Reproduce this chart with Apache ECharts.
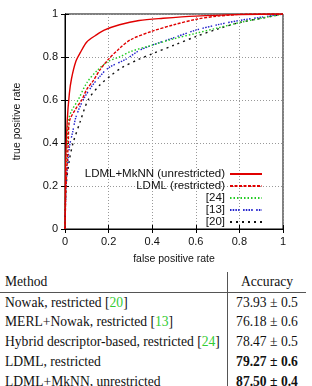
<!DOCTYPE html>
<html>
<head>
<meta charset="utf-8">
<script src="https://cdn.jsdelivr.net/npm/echarts@6/dist/echarts.min.js"></script>
<style>
  html, body { margin: 0; padding: 0; background: #fff; }
  #wrap { position: relative; width: 312px; height: 386px; overflow: hidden; }
  #roc { position: absolute; left: 0; top: 0; width: 312px; height: 270px; }
  .tbl { position: absolute; left: 0; top: 272px; width: 306px; border-collapse: collapse;
         font-family: "Liberation Serif", "DejaVu Serif", serif; font-size: 13.6px; color: #111; }
  .tbl td { height: 19.7px; padding: 0; line-height: 19.7px; white-space: nowrap; }
  .tbl td.m { padding-left: 5px; width: 222px; }
  .tbl td.a { text-align: center; border-left: 1px solid #555; }
  .tbl tr.head td { border-bottom: 1px solid #555; height: 18px; }
  .tbl .ref { color: #3c3; }
  .tbl b { font-weight: bold; }
</style>
</head>
<body>
<div id="wrap">
  <div id="roc"></div>
  <table class="tbl">
    <tr class="head"><td class="m">Method</td><td class="a">Accuracy</td></tr>
    <tr><td class="m">Nowak, restricted [<span class="ref">20</span>]</td><td class="a">73.93 ± 0.5</td></tr>
    <tr><td class="m">MERL+Nowak, restricted [<span class="ref">13</span>]</td><td class="a">76.18 ± 0.6</td></tr>
    <tr><td class="m">Hybrid descriptor-based, restricted [<span class="ref">24</span>]</td><td class="a">78.47 ± 0.5</td></tr>
    <tr><td class="m">LDML, restricted</td><td class="a"><b>79.27 ± 0.6</b></td></tr>
    <tr><td class="m">LDML+MkNN, unrestricted</td><td class="a"><b>87.50 ± 0.4</b></td></tr>
  </table>
</div>
<script>
  // ROC curves (false positive rate / true positive rate)
  var mknnFpr = [0, 0.003, 0.01, 0.02, 0.03, 0.05, 0.07, 0.1, 0.14, 0.18, 0.25, 0.34, 0.45, 0.6, 0.8, 1];
  var mknnTpr = [0, 0.3, 0.5, 0.63, 0.7, 0.78, 0.82, 0.87, 0.9, 0.925, 0.95, 0.97, 0.98, 0.99, 0.997, 1];

  var ldmlFpr = [0, 0.005, 0.015, 0.02, 0.05, 0.077, 0.1, 0.13, 0.16, 0.2, 0.25, 0.3, 0.4, 0.5, 0.6, 0.7, 0.85, 1];
  var ldmlTpr = [0, 0.2, 0.4, 0.5, 0.56, 0.6, 0.65, 0.69, 0.74, 0.79, 0.84, 0.88, 0.92, 0.95, 0.975, 0.99, 1, 1];

  var r24Fpr = [0, 0.003, 0.01, 0.015, 0.03, 0.06, 0.1, 0.15, 0.2, 0.25, 0.3, 0.4, 0.5, 0.6, 0.7, 0.8, 0.9, 1];
  var r24Tpr = [0, 0.2, 0.4, 0.5, 0.55, 0.6, 0.68, 0.74, 0.78, 0.8, 0.825, 0.855, 0.885, 0.91, 0.935, 0.96, 0.98, 1];

  var r13Fpr = [0, 0.005, 0.02, 0.035, 0.05, 0.083, 0.12, 0.16, 0.2, 0.28, 0.34, 0.4, 0.5, 0.6, 0.7, 0.8, 0.9, 1];
  var r13Tpr = [0, 0.2, 0.38, 0.45, 0.52, 0.6, 0.66, 0.71, 0.75, 0.79, 0.83, 0.855, 0.89, 0.925, 0.95, 0.97, 0.985, 1];

  var r20Fpr = [0, 0.005, 0.02, 0.037, 0.07, 0.106, 0.16, 0.206, 0.26, 0.34, 0.4, 0.5, 0.6, 0.7, 0.8, 0.9, 1];
  var r20Tpr = [0, 0.2, 0.32, 0.4, 0.5, 0.6, 0.67, 0.71, 0.75, 0.79, 0.815, 0.855, 0.895, 0.93, 0.96, 0.98, 1];

  var names = ['LDML+MkNN (unrestricted)', 'LDML (restricted)', '[24]', '[13]', '[20]'];

  function zip(xs, ys) {
    return xs.map(function (x, i) { return [x, ys[i]]; });
  }

  var font = 'Liberation Sans, Arial, sans-serif';
  var styles = [
    { color: '#e00000', type: 'solid' },
    { color: '#e00000', type: [3, 1.5] },
    { color: '#22cc22', type: [1.5, 2] },
    { color: '#2222cc', type: [1.5, 1.2, 1.5, 1.2, 1.5, 1.2, 1.5, 3.5] },
    { color: '#111111', type: [2, 4] }
  ];
  var curves = [zip(mknnFpr, mknnTpr), zip(ldmlFpr, ldmlTpr), zip(r24Fpr, r24Tpr), zip(r13Fpr, r13Tpr), zip(r20Fpr, r20Tpr)];

  var chart = echarts.init(document.getElementById('roc'));
  var axisBase = {
    type: 'value', min: 0, max: 1, interval: 0.2,
    axisLine: { show: true, lineStyle: { color: '#000', width: 1 } },
    axisTick: { show: true, inside: true, length: 4, lineStyle: { color: '#000' } }
  };
  chart.setOption({
    animation: false,
    grid: { left: 65, right: 29, top: 14, bottom: 40, show: true, borderColor: '#000', borderWidth: 1 },
    legend: {
      data: names,
      orient: 'vertical',
      align: 'right',
      right: 44,
      top: 163,
      itemWidth: 32,
      itemHeight: 8,
      itemGap: 0,
      itemStyle: { opacity: 0 },
      textStyle: { fontFamily: font, fontSize: 11.5, color: '#111', lineHeight: 11.2 }
    },
    xAxis: [
      Object.assign({}, axisBase, {
        position: 'bottom',
        name: 'false positive rate', nameLocation: 'middle', nameGap: 25,
        nameTextStyle: { fontFamily: font, fontSize: 10.5, color: '#111' },
        axisLabel: { fontFamily: font, fontSize: 11, color: '#111', margin: 7 },
        splitLine: { show: true, lineStyle: { color: '#999', type: [1, 2] } }
      }),
      Object.assign({}, axisBase, {
        position: 'top', axisLabel: { show: false }, splitLine: { show: false }
      })
    ],
    yAxis: [
      Object.assign({}, axisBase, {
        position: 'left',
        name: 'true positive rate', nameLocation: 'middle', nameGap: 42,
        nameTextStyle: { fontFamily: font, fontSize: 10.5, color: '#111' },
        axisLabel: { fontFamily: font, fontSize: 11, color: '#111', margin: 7 },
        splitLine: { show: true, lineStyle: { color: '#999', type: [1, 2] } }
      }),
      Object.assign({}, axisBase, {
        position: 'right', axisLabel: { show: false }, splitLine: { show: false }
      })
    ],
    series: curves.map(function (d, i) {
      return {
        name: names[i],
        type: 'line',
        data: d,
        symbol: 'none',
        smooth: 0.3,
        itemStyle: { color: styles[i].color },
        lineStyle: { color: styles[i].color, width: 1.4, type: styles[i].type },
        z: 10 - i
      };
    })
  });
</script>
</body>
</html>
